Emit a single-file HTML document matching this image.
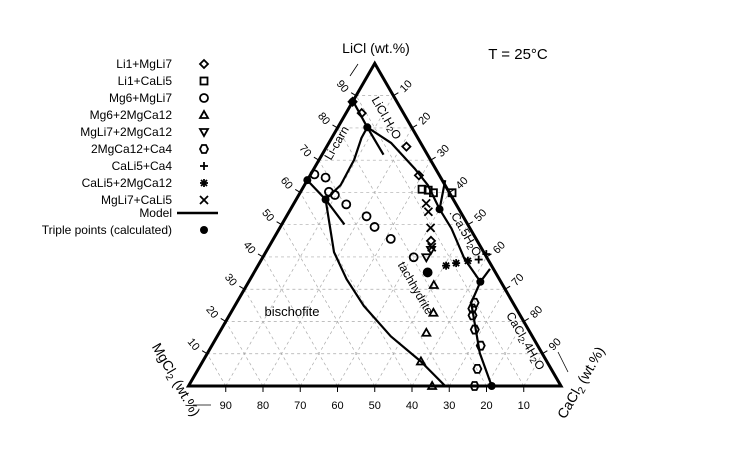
<!DOCTYPE html>
<html><head><meta charset="utf-8"><style>
html,body{margin:0;padding:0;background:#fff;}
svg{display:block;font-family:"Liberation Sans","DejaVu Sans",sans-serif;}
</style></head><body>
<svg id="chart" width="750" height="450" viewBox="0 0 750 450">
<g id="grid"></g>
<g id="curves"></g>
<g id="frame"></g>
<g id="ticks"></g>
<g id="marks"></g>
<g id="legend"></g>
<text x="376" y="53" font-size="14" text-anchor="middle">LiCl (wt.%)</text>
<line x1="358" y1="64" x2="350" y2="76" stroke="#000" stroke-width="0.8"/>
<text x="518" y="59" font-size="15" text-anchor="middle">T = 25°C</text>
<text transform="translate(172,382) rotate(60)" font-size="14" text-anchor="middle">MgCl<tspan font-size="10" dy="3">2</tspan><tspan dy="-3"> (wt.%)</tspan></text>
<line x1="193" y1="405" x2="211" y2="405" stroke="#000" stroke-width="0.8"/>
<text transform="translate(585,385) rotate(-60)" font-size="14" text-anchor="middle">CaCl<tspan font-size="10" dy="3">2</tspan><tspan dy="-3"> (wt.%)</tspan></text>
<line x1="568" y1="372" x2="558" y2="352" stroke="#000" stroke-width="0.8"/>
<text x="292" y="316" font-size="13" text-anchor="middle">bischofite</text>
<text transform="translate(383,120) rotate(60)" font-size="12" text-anchor="middle">LiCl.H<tspan font-size="9" dy="2">2</tspan><tspan dy="-2">O</tspan></text>
<text transform="translate(340,145) rotate(-60)" font-size="12" text-anchor="middle">Li-carn</text>
<text transform="translate(462,235) rotate(60)" font-size="12" text-anchor="middle">.Ca.5H<tspan font-size="9" dy="2">2</tspan><tspan dy="-2">O</tspan></text>
<text transform="translate(412,290) rotate(60)" font-size="12" text-anchor="middle">tachhydrite</text>
<text transform="translate(522,343) rotate(60)" font-size="12" text-anchor="middle">CaCl<tspan font-size="9" dy="2">2</tspan><tspan dy="-2">.4H</tspan><tspan font-size="9" dy="2">2</tspan><tspan dy="-2">O</tspan></text>
</svg>
<script>
// data: LiCl wt% and CaCl2 wt%
const li1MgLi7Li = [88.1, 84.6, 74.2, 65.3, 45.0];
const li1MgLi7Ca = [0, 4.2, 21.4, 29.2, 42.6];
const li1CaLi5Li = [61.0, 60.7, 59.9, 59.9];
const li1CaLi5Ca = [32.2, 34.0, 35.8, 40.8];
const mg6MgLi7Li = [65.6, 64.6, 60.2, 59.2, 56.3, 52.6, 49.3, 45.6, 39.9, 35.2];
const mg6MgLi7Ca = [1.0, 4.5, 7.6, 9.7, 14.2, 21.5, 25.3, 31.5, 40.5, 46.6];
const mg6MgCaLi = [31.3, 22.7, 16.5, 7.6, 0];
const mg6MgCaCa = [50.2, 54.4, 55.6, 58.6, 65.4];
const mgLi7MgCaLi = [39.9, 42.2];
const mgLi7MgCaCa = [43.9, 44.0];
const mgCaCa4Li = [25.8, 24.0, 21.9, 17.5, 12.5, 5.3, 0];
const mgCaCa4Ca = [63.9, 64.2, 65.3, 68.1, 72.2, 74.9, 76.8];
const caLi5Ca4Li = [39.2, 40.9];
const caLi5Ca4Ca = [58.3, 59.5];
const caLi5MgCaLi = [37.3, 38.1, 38.8];
const caLi5MgCaCa = [50.5, 52.8, 55.6];
const mgLi7CaLi5Li = [56.6, 54.0, 49.0, 43.0];
const mgLi7CaLi5Ca = [35.5, 37.4, 40.5, 43.8];
const tripleLi = [88.1, 80.2, 63.8, 57.8, 54.8, 32.3, 0, 35.2];
const tripleCa = [0, 7.9, 0, 7.9, 40.0, 62.2, 81.4, 46.6];
// model curves
const curveALi = [88.3, 80.2];            const curveACa = [0, 7.9];
const curveBLi = [80.2, 75.3, 67.5, 62.3, 54.8]; const curveBCa = [7.9, 16.8, 26.9, 33.1, 40.0];
const curveB2Li = [80.2, 71.7];           const curveB2Ca = [7.9, 16.5];
const curveCLi = [80.2, 76.9, 70.1, 62.3, 57.8]; const curveCCa = [7.9, 8.0, 9.4, 9.7, 7.9];
const curveDLi = [63.8, 57.8, 50.1];      const curveDCa = [0, 7.9, 16.8];
const curveELi = [57.8, 41.5, 33.1, 24.8, 15.4, 7.6, 0]; const curveECa = [7.9, 18.3, 25.9, 34.7, 46.6, 58.6, 68.9];
const curveFLi = [63.8, 54.8];            const curveFCa = [37.0, 40.0];
const curveGLi = [54.8, 48.8, 39.4, 32.3]; const curveGCa = [40.0, 46.2, 54.4, 62.2];
const curveHLi = [32.3, 36.3];            const curveHCa = [62.2, 62.8];
const curveILi = [32.3, 25.8, 10.2, 0];   const curveICa = [62.2, 63.0, 73.1, 81.4];
const tickValues = [10, 20, 30, 40, 50, 60, 70, 80, 90];
const legendLabels = ["Li1+MgLi7","Li1+CaLi5","Mg6+MgLi7","Mg6+2MgCa12","MgLi7+2MgCa12","2MgCa12+Ca4","CaLi5+Ca4","CaLi5+2MgCa12","MgLi7+CaLi5"];

const NS = "http://www.w3.org/2000/svg";
const X0 = 188.5, SIDE = 372.5, Y0 = 386, H = 322.6;
function px(li, ca){ return X0 + SIDE*(ca/100 + li/200); }
function py(li){ return Y0 - H*li/100; }
function mk(tag, attrs, parent){ const e = document.createElementNS(NS, tag); for (const k in attrs) e.setAttribute(k, attrs[k]); parent.appendChild(e); return e; }

const grid = document.getElementById('grid');
tickValues.forEach(v => {
  const f = v/100;
  // constant LiCl
  let g1 = mk('line', {x1: px(v,0), y1: py(v), x2: px(v,100-v), y2: py(v), stroke:'#aaa', 'stroke-width':0.7, 'stroke-dasharray':'3,3'}, grid);
  
  
  // constant CaCl2
  let g2 = mk('line', {x1: px(0,v), y1: py(0), x2: px(100-v,v), y2: py(100-v), stroke:'#aaa', 'stroke-width':0.7, 'stroke-dasharray':'3,3'}, grid);
  
  
  // constant MgCl2 (li+ca = 100-v)
  let g3 = mk('line', {x1: px(0,100-v), y1: py(0), x2: px(100-v,0), y2: py(100-v), stroke:'#aaa', 'stroke-width':0.7, 'stroke-dasharray':'3,3'}, grid);
  
  
});

const frame = document.getElementById('frame');
let tri = mk('polygon', {points: `${px(100,0)},${py(100)} ${px(0,0)},${py(0)} ${px(0,100)},${py(0)}`, fill:'none', stroke:'#000', 'stroke-width':3, 'stroke-linejoin':'miter'}, frame);



const ticks = document.getElementById('ticks');
tickValues.forEach(v => {
  // bottom: MgCl2 label v at position ca = 100 - v
  const bx = px(0, 100 - v);
  let t = mk('line', {x1:bx, y1:Y0, x2:bx, y2:Y0+6, stroke:'#000', 'stroke-width':1}, ticks);
  
  
  let tl = mk('text', {x:bx, y:Y0+23, 'font-size':11, 'text-anchor':'middle'}, ticks);
  tl.textContent = v;
  
  
  // left: LiCl
  const lx = px(v, 0), ly = py(v);
  let t2 = mk('line', {x1:lx, y1:ly, x2:lx-5, y2:ly-3, stroke:'#000', 'stroke-width':1}, ticks);
  
  
  let l2 = mk('text', {transform:`translate(${lx-14},${ly-9}) rotate(50)`, 'font-size':11, 'text-anchor':'middle', 'dominant-baseline':'middle'}, ticks);
  l2.textContent = v;
  
  
  // right: CaCl2
  const rx = px(100 - v, v), ry = py(100 - v);
  let t3 = mk('line', {x1:rx, y1:ry, x2:rx+5, y2:ry-3, stroke:'#000', 'stroke-width':1}, ticks);
  
  
  let l3 = mk('text', {transform:`translate(${rx+13},${ry-9}) rotate(-45)`, 'font-size':11, 'text-anchor':'middle', 'dominant-baseline':'middle'}, ticks);
  l3.textContent = v;
  
  
});

const curves = document.getElementById('curves');
[[curveALi,curveACa],[curveBLi,curveBCa],[curveB2Li,curveB2Ca],[curveCLi,curveCCa],[curveDLi,curveDCa],[curveELi,curveECa],[curveFLi,curveFCa],[curveGLi,curveGCa],[curveHLi,curveHCa],[curveILi,curveICa]].forEach(([L,C]) => {
  const pts = L.map((l,i) => `${px(l,C[i]).toFixed(1)},${py(l).toFixed(1)}`).join(' ');
  let pl = mk('polyline', {points: pts, fill:'none', stroke:'#000', 'stroke-width':2.2, 'stroke-linejoin':'round'}, curves);
  
  
});

function marker(type, x, y, parent){
  const s = 4;
  const st = {fill:'none', stroke:'#000', 'stroke-width':1.8};
  let g = mk('g', {}, parent);
  if (type === 'diamond') mk('polygon', Object.assign({points:`${x},${y-s} ${x+s},${y} ${x},${y+s} ${x-s},${y}`}, st), g);
  else if (type === 'square') mk('rect', Object.assign({x:x-s+0.5, y:y-s+0.5, width:2*s-1, height:2*s-1}, st), g);
  else if (type === 'circle') mk('circle', Object.assign({cx:x, cy:y, r:s}, st), g);
  else if (type === 'tri') mk('polygon', Object.assign({points:`${x},${y-s} ${x+s},${y+s-1} ${x-s},${y+s-1}`}, st), g);
  else if (type === 'dtri') mk('polygon', Object.assign({points:`${x-s},${y-s+1} ${x+s},${y-s+1} ${x},${y+s}`}, st), g);
  else if (type === 'pent') mk('polygon', Object.assign({points:`${x-2},${y-s} ${x+2},${y-s} ${x+s},${y} ${x+2},${y+s} ${x-2},${y+s} ${x-s},${y}`}, st), g);
  else if (type === 'plus') { mk('line', Object.assign({x1:x-s, y1:y, x2:x+s, y2:y}, st), g); mk('line', Object.assign({x1:x, y1:y-s, x2:x, y2:y+s}, st), g); }
  else if (type === 'star') { mk('line', Object.assign({x1:x-s, y1:y, x2:x+s, y2:y}, st), g); mk('line', Object.assign({x1:x, y1:y-s, x2:x, y2:y+s}, st), g); mk('line', Object.assign({x1:x-s+1, y1:y-s+1, x2:x+s-1, y2:y+s-1}, st), g); mk('line', Object.assign({x1:x-s+1, y1:y+s-1, x2:x+s-1, y2:y-s+1}, st), g); }
  else if (type === 'cross') { mk('line', Object.assign({x1:x-s, y1:y-s, x2:x+s, y2:y+s}, st), g); mk('line', Object.assign({x1:x-s, y1:y+s, x2:x+s, y2:y-s}, st), g); }
  else if (type === 'dot') mk('circle', {cx:x, cy:y, r:4, fill:'#000'}, g);
  return g;
}

const marks = document.getElementById('marks');
const seriesList = [
  ['diamond', li1MgLi7Li, li1MgLi7Ca, 'li1-mgli7-point'],
  ['square', li1CaLi5Li, li1CaLi5Ca, 'li1-cali5-point'],
  ['circle', mg6MgLi7Li, mg6MgLi7Ca, 'mg6-mgli7-point'],
  ['tri', mg6MgCaLi, mg6MgCaCa, 'mg6-2mgca12-point'],
  ['dtri', mgLi7MgCaLi, mgLi7MgCaCa, 'mgli7-2mgca12-point'],
  ['pent', mgCaCa4Li, mgCaCa4Ca, '2mgca12-ca4-point'],
  ['plus', caLi5Ca4Li, caLi5Ca4Ca, 'cali5-ca4-point'],
  ['star', caLi5MgCaLi, caLi5MgCaCa, 'cali5-2mgca12-point'],
  ['cross', mgLi7CaLi5Li, mgLi7CaLi5Ca, 'mgli7-cali5-point'],
  ['dot', tripleLi, tripleCa, 'triple-point']
];
seriesList.forEach(([type, L, C, name]) => {
  L.forEach((l, i) => {
    const g = marker(type, px(l, C[i]), py(l), marks);
    
    
  });
});

const legend = document.getElementById('legend');
const legendTypes = ['diamond','square','circle','tri','dtri','pent','plus','star','cross'];
legendLabels.forEach((lab, i) => {
  const y = 64 + 17 * i;
  let t = mk('text', {x:172, y:y+4, 'font-size':12, 'text-anchor':'end'}, legend);
  t.textContent = lab;
  
  
  const g = marker(legendTypes[i], 204, y, legend);
  
  
});
let mt = mk('text', {x:172, y:217, 'font-size':12, 'text-anchor':'end'}, legend);
mt.textContent = 'Model';


let ml = mk('line', {x1:177, y1:213, x2:218, y2:213, stroke:'#000', 'stroke-width':2.5}, legend);


let tt = mk('text', {x:172, y:234, 'font-size':12, 'text-anchor':'end'}, legend);
tt.textContent = 'Triple points (calculated)';


const tg = marker('dot', 204, 230, legend);


</script>
</body></html>
